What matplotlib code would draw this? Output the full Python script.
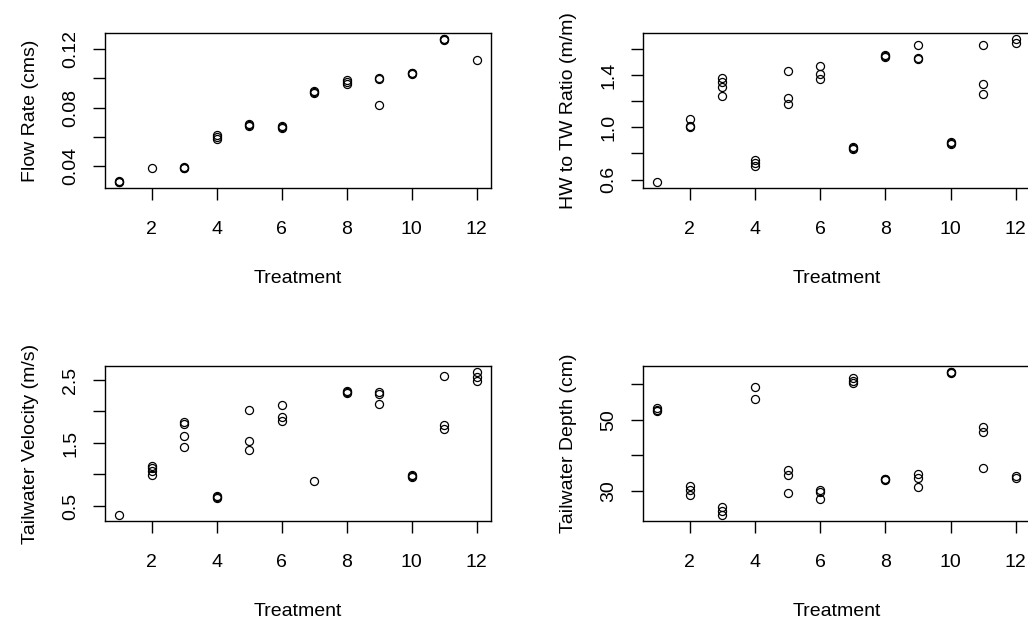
import numpy as np
import matplotlib
matplotlib.use("Agg")
import matplotlib.pyplot as plt

plt.rcParams['font.family'] = ['Liberation Sans', 'DejaVu Sans']

# treatment / value pairs
flow_trt = [1, 1, 1, 2, 3, 3, 3, 4, 4, 4, 5, 5, 5, 6, 6, 6, 7, 7, 7,
            8, 8, 8, 9, 9, 9, 10, 10, 10, 11, 11, 11, 12]
flow_rate = [0.0290, 0.0295, 0.0300, 0.0386, 0.0386, 0.0389, 0.0392,
             0.0588, 0.0600, 0.0612, 0.0672, 0.0680, 0.0686,
             0.0662, 0.0668, 0.0675, 0.0900, 0.0905, 0.0910,
             0.0960, 0.0975, 0.0988, 0.0818, 0.0998, 0.1004,
             0.1028, 0.1033, 0.1038, 0.1262, 0.1266, 0.1270, 0.1122]

ratio_trt = [1, 2, 2, 2, 3, 3, 3, 3, 4, 4, 4, 5, 5, 5, 6, 6, 6, 7, 7, 7,
             8, 8, 8, 9, 9, 9, 10, 10, 10, 11, 11, 11, 12, 12]
hw_tw_ratio = [0.580, 1.067, 1.012, 1.002, 1.375, 1.344, 1.308, 1.241,
               0.752, 0.729, 0.708, 1.433, 1.221, 1.179,
               1.467, 1.405, 1.369, 0.838, 0.844, 0.850,
               1.540, 1.548, 1.556, 1.631, 1.522, 1.530,
               0.872, 0.879, 0.886, 1.631, 1.333, 1.252, 1.677, 1.644]

vel_trt = [1, 2, 2, 2, 2, 3, 3, 3, 3, 4, 4, 4, 5, 5, 5, 6, 6, 6, 7,
           8, 8, 8, 9, 9, 9, 10, 10, 10, 11, 11, 11, 12, 12, 12]
tw_velocity = [0.352, 1.142, 1.100, 1.060, 0.989, 1.837, 1.799, 1.616, 1.442,
               0.630, 0.646, 0.660, 2.031, 1.530, 1.395,
               2.099, 1.905, 1.853, 0.889, 2.300, 2.311, 2.320,
               2.310, 2.280, 2.126, 0.960, 0.973, 0.985,
               2.563, 1.789, 1.720, 2.631, 2.541, 2.489]

depth_trt = [1, 1, 1, 2, 2, 2, 3, 3, 3, 4, 4, 5, 5, 5, 6, 6, 6, 7, 7, 7,
             8, 8, 8, 9, 9, 9, 10, 10, 10, 11, 11, 11, 12, 12]
tw_depth = [53.24, 52.85, 52.48, 31.35, 30.42, 29.01, 25.52, 24.31, 23.18,
            59.32, 55.86, 35.86, 34.45, 29.58, 30.42, 29.66, 27.69,
            61.69, 60.93, 60.28, 33.05, 33.24, 33.40, 34.65, 33.52, 31.15,
            63.20, 63.38, 63.55, 48.06, 46.48, 36.51, 34.17, 33.52]

x_ticks = [2, 4, 6, 8, 10, 12]

flow_ticks = [0.04, 0.06, 0.08, 0.10, 0.12]
flow_labels = ['0.04', '', '0.08', '', '0.12']
ratio_ticks = [0.6, 0.8, 1.0, 1.2, 1.4, 1.6]
ratio_labels = ['0.6', '', '1.0', '', '1.4', '']
vel_ticks = [0.5, 1.0, 1.5, 2.0, 2.5]
vel_labels = ['0.5', '', '1.5', '', '2.5']
depth_ticks = [30, 40, 50, 60]
depth_labels = ['30', '', '50', '']


def scatter_panel(ax, x, y, ylabel, yticks, ylabels):
    ax.plot(x, y, linestyle='none', marker='o', markersize=5.8,
            markerfacecolor='none', markeredgecolor='black',
            markeredgewidth=0.9)
    ax.margins(0.04)
    ax.set_xticks(x_ticks)
    ax.set_yticks(yticks)
    ax.set_yticklabels(ylabels, rotation=90, va='center')
    ax.tick_params(direction='out', length=8.5, width=1, labelsize=14,
                   pad=10, color='black')
    ax.tick_params(axis='x', pad=15)
    ax.set_xlabel('Treatment', fontsize=14, labelpad=23)
    ax.set_ylabel(ylabel, fontsize=14, labelpad=17)
    for s in ax.spines.values():
        s.set_linewidth(1)


def main():
    fig = plt.figure(figsize=(10.28, 6.2), dpi=100)
    w, h = 1028, 620
    # axes boxes in pixels: left, top, right, bottom
    boxes = [(105, 33, 491, 188), (643, 33, 1030, 188),
             (105, 366, 491, 521), (643, 366, 1030, 521)]
    axs = [fig.add_axes([l / w, 1 - b / h, (r - l) / w, (b - t) / h])
           for l, t, r, b in boxes]

    scatter_panel(axs[0], flow_trt, flow_rate, 'Flow Rate (cms)',
                  flow_ticks, flow_labels)
    scatter_panel(axs[1], ratio_trt, hw_tw_ratio, 'HW to TW Ratio (m/m)',
                  ratio_ticks, ratio_labels)
    scatter_panel(axs[2], vel_trt, tw_velocity, 'Tailwater Velocity (m/s)',
                  vel_ticks, vel_labels)
    scatter_panel(axs[3], depth_trt, tw_depth, 'Tailwater Depth (cm)',
                  depth_ticks, depth_labels)

    fig.savefig('out.png', dpi=100)


if __name__ == '__main__':
    main()
